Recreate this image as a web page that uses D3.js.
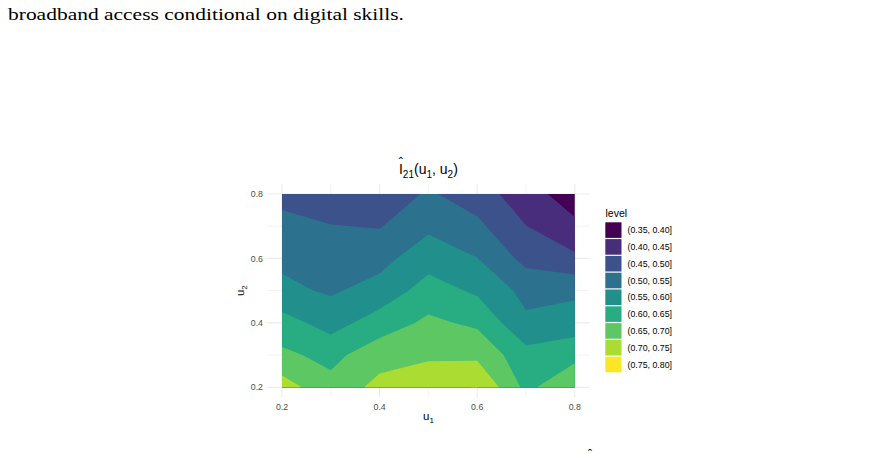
<!DOCTYPE html>
<html><head><meta charset="utf-8">
<script src="https://cdn.jsdelivr.net/npm/d3@7"></script>
<style>body{margin:0;background:#fff;} svg{display:block}</style>
</head><body><svg id="c" width="885" height="454"></svg>
<script>
// ---- data ----
const u1Values = [0.2, 0.3, 0.4, 0.5, 0.6, 0.7, 0.8];
const u2Values = [0.2, 0.3, 0.4, 0.5, 0.6, 0.7, 0.8];
// estimated surface values, one array per u2 row (entries follow u1Values)
const levelAtU2_02 = [0.723, 0.666, 0.716, 0.743, 0.751, 0.637, 0.695];
const levelAtU2_03 = [0.660, 0.636, 0.679, 0.690, 0.689, 0.617, 0.635];
const levelAtU2_04 = [0.620, 0.580, 0.624, 0.660, 0.641, 0.560, 0.573];
const levelAtU2_05 = [0.561, 0.544, 0.568, 0.622, 0.592, 0.535, 0.540];
const levelAtU2_06 = [0.540, 0.520, 0.534, 0.579, 0.551, 0.485, 0.460];
const levelAtU2_07 = [0.525, 0.502, 0.497, 0.540, 0.511, 0.451, 0.410];
const levelAtU2_08 = [0.475, 0.465, 0.470, 0.506, 0.475, 0.420, 0.375];
const levelBreaks = [0.35, 0.40, 0.45, 0.50, 0.55, 0.60, 0.65, 0.70, 0.75, 0.80];
const levelLabels = ["(0.35, 0.40]", "(0.40, 0.45]", "(0.45, 0.50]", "(0.50, 0.55]", "(0.55, 0.60]",
                     "(0.60, 0.65]", "(0.65, 0.70]", "(0.70, 0.75]", "(0.75, 0.80]"];
const xTickValues = [0.2, 0.4, 0.6, 0.8];
const yTickValues = [0.2, 0.4, 0.6, 0.8];
const xMinorValues = [0.3, 0.5, 0.7];
const yMinorValues = [0.3, 0.5, 0.7];
const tickLabels = ["0.2", "0.4", "0.6", "0.8"];

// ---- style ----
const palette = ["#440154", "#472D7B", "#3B528B", "#2C728E", "#21908C", "#27AD81", "#5DC863", "#AADC32", "#FDE725"];
const sans = "'Liberation Sans', Arial, sans-serif";
const serif = "'Liberation Serif', 'Times New Roman', serif";

const svg = d3.select("#c");

// intro text line (from the surrounding document)
svg.append("text").attr("x", 8).attr("y", 20)
  .attr("textLength", 396).attr("lengthAdjust", "spacingAndGlyphs")
  .style("font-family", serif).style("font-size", "16.5px").attr("fill", "#000")
  .text("broadband access conditional on digital skills.");
svg.append("text").attr("x", 590).attr("y", 458).attr("text-anchor", "middle")
  .style("font-family", serif).style("font-size", "13px").text("ˆ");

// ---- scales ----
const x = d3.scaleLinear().domain([0.17, 0.83]).range([267.4, 589.4]);
const y = d3.scaleLinear().domain([0.17, 0.83]).range([397, 184.3]);

// gridlines
const grid = svg.append("g");
grid.selectAll(".vminor").data(xMinorValues).join("line")
  .attr("x1", d => x(d)).attr("x2", d => x(d)).attr("y1", y.range()[0]).attr("y2", y.range()[1])
  .attr("stroke", "#EBEBEB").attr("stroke-width", 0.6);
grid.selectAll(".hminor").data(yMinorValues).join("line")
  .attr("y1", d => y(d)).attr("y2", d => y(d)).attr("x1", x.range()[0]).attr("x2", x.range()[1])
  .attr("stroke", "#EBEBEB").attr("stroke-width", 0.6);
grid.selectAll(".vmajor").data(xTickValues).join("line")
  .attr("x1", d => x(d)).attr("x2", d => x(d)).attr("y1", y.range()[0]).attr("y2", y.range()[1])
  .attr("stroke", "#EBEBEB").attr("stroke-width", 1.1);
grid.selectAll(".hmajor").data(yTickValues).join("line")
  .attr("y1", d => y(d)).attr("y2", d => y(d)).attr("x1", x.range()[0]).attr("x2", x.range()[1])
  .attr("stroke", "#EBEBEB").attr("stroke-width", 1.1);

// ---- filled contours ----
const rows = [levelAtU2_02, levelAtU2_03, levelAtU2_04, levelAtU2_05, levelAtU2_06, levelAtU2_07, levelAtU2_08];
const nx = u1Values.length, ny = u2Values.length;
const values = [];
rows.forEach(r => r.forEach(v => values.push(v)));
const contourGen = d3.contours().size([nx, ny]).thresholds(levelBreaks.slice(0, -1));
const bands = contourGen(values);
const du1 = u1Values[1] - u1Values[0], du2 = u2Values[1] - u2Values[0];
const gridProj = d3.geoTransform({
  point(cx, cy) {
    this.stream.point(x(u1Values[0] + (cx - 0.5) * du1), y(u2Values[0] + (cy - 0.5) * du2));
  }
});
const path = d3.geoPath(gridProj);
const x0 = x(d3.min(u1Values)), x1 = x(d3.max(u1Values));
const y0 = y(d3.max(u2Values)), y1 = y(d3.min(u2Values));
svg.append("clipPath").attr("id", "dataClip").append("rect")
  .attr("x", x0).attr("y", y0).attr("width", x1 - x0).attr("height", y1 - y0);
svg.append("g").attr("clip-path", "url(#dataClip)")
  .selectAll("path").data(bands).join("path")
  .attr("d", path)
  .attr("fill", d => palette[levelBreaks.indexOf(d.value)])
  .attr("stroke", "none");

// ---- axes text ----
svg.append("g").selectAll("text").data(xTickValues).join("text")
  .attr("x", d => x(d)).attr("y", 409.5).attr("text-anchor", "middle")
  .style("font-family", sans).style("font-size", "8.8px").attr("fill", "#4D4D4D")
  .text((d, i) => tickLabels[i]);
svg.append("g").selectAll("text").data(yTickValues).join("text")
  .attr("x", 263).attr("y", d => y(d)).attr("dy", "0.36em").attr("text-anchor", "end")
  .style("font-family", sans).style("font-size", "8.8px").attr("fill", "#4D4D4D")
  .text((d, i) => tickLabels[i]);

// axis titles
const xt = svg.append("text").attr("x", (x.range()[0] + x.range()[1]) / 2).attr("y", 419.5)
  .attr("text-anchor", "middle").style("font-family", sans).style("font-size", "11.5px").attr("fill", "#000");
xt.append("tspan").text("u");
xt.append("tspan").attr("dy", 3).style("font-size", "8px").text("1");
const yt = svg.append("text").attr("transform", `translate(244,${(y.range()[0] + y.range()[1]) / 2}) rotate(-90)`)
  .attr("text-anchor", "middle").style("font-family", sans).style("font-size", "11.5px").attr("fill", "#000");
yt.append("tspan").text("u");
yt.append("tspan").attr("dy", 3).style("font-size", "8px").text("2");

// plot title  Î21(u1, u2)
const tt = svg.append("text").attr("x", (x.range()[0] + x.range()[1]) / 2).attr("y", 174)
  .attr("text-anchor", "middle").style("font-family", sans).style("font-size", "14px").attr("fill", "#000");
tt.append("tspan").text("I");
tt.append("tspan").attr("dy", 3.5).style("font-size", "10px").text("21");
tt.append("tspan").attr("dy", -3.5).text("(u");
tt.append("tspan").attr("dy", 3.5).style("font-size", "10px").text("1");
tt.append("tspan").attr("dy", -3.5).text(", u");
tt.append("tspan").attr("dy", 3.5).style("font-size", "10px").text("2");
tt.append("tspan").attr("dy", -3.5).text(")");
const ext = tt.node().getExtentOfChar(0);
svg.append("text").attr("x", ext.x + ext.width / 2).attr("y", 167).attr("text-anchor", "middle")
  .style("font-family", sans).style("font-size", "12.5px").attr("fill", "#000").text("ˆ");

// ---- legend ----
const lg = svg.append("g");
lg.append("text").attr("x", 605.5).attr("y", 216.5).style("font-family", sans).style("font-size", "10.5px")
  .attr("fill", "#000").text("level");
const keyStep = 16.8, keyTop = 222.3;
lg.selectAll("rect").data(levelLabels).join("rect")
  .attr("x", 605.3).attr("y", (d, i) => keyTop + i * keyStep).attr("width", 16.2).attr("height", 15.6)
  .attr("fill", (d, i) => palette[i]);
lg.selectAll(".lab").data(levelLabels).join("text")
  .attr("x", 627.5).attr("y", (d, i) => keyTop + i * keyStep + 7.8).attr("dy", "0.36em")
  .style("font-family", sans).style("font-size", "8.8px").attr("fill", "#000")
  .text(d => d);
</script>
</body></html>
